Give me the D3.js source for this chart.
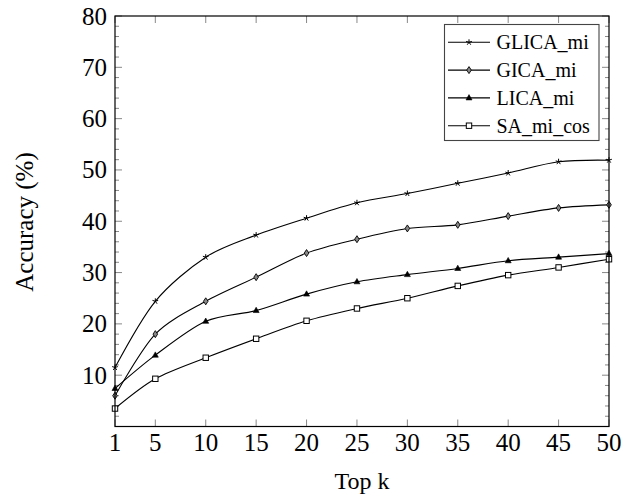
<!DOCTYPE html>
<html><head><meta charset="utf-8">
<script src="https://cdn.jsdelivr.net/npm/d3@7"></script>
<style>body{margin:0;background:#fff}svg{display:block}</style>
</head><body>
<svg id="c" width="635" height="499" font-family="Liberation Serif"></svg>
<script>
const topK = [1, 5, 10, 15, 20, 25, 30, 35, 40, 45, 50];
const glicaMi = [11.5, 24.4, 33.0, 37.3, 40.6, 43.6, 45.4, 47.4, 49.4, 51.6, 51.9];
const gicaMi  = [6.0, 18.0, 24.4, 29.1, 33.8, 36.5, 38.6, 39.3, 41.0, 42.6, 43.2];
const licaMi  = [7.4, 13.9, 20.5, 22.6, 25.8, 28.2, 29.6, 30.8, 32.3, 33.0, 33.7];
const saMiCos = [3.5, 9.3, 13.4, 17.1, 20.6, 23.0, 25.0, 27.4, 29.5, 31.0, 32.6];
const seriesNames = ["GLICA_mi", "GICA_mi", "LICA_mi", "SA_mi_cos"];
const markerKinds = ["star", "diamond", "triangle", "square"];
const yTickLabels = ["10", "20", "30", "40", "50", "60", "70", "80"];
const xTickLabels = ["1", "5", "10", "15", "20", "25", "30", "35", "40", "45", "50"];

const svg = d3.select("#c");
const L = 115, R = 609, T = 16, B = 426.5;
const x = d3.scaleLinear().domain([1, 50]).range([L, R]);
const y = d3.scaleLinear().domain([0, 80]).range([B, T]);

function txt(sel) { return sel.append("text").attr("font-family", "Liberation Serif").attr("fill", "#000"); }

// ticks (inward)
const g = svg.append("g");
const minor = d3.range(2, 80, 2).filter(v => v % 10 !== 0);
const tickCol = "#888";
yTickLabels.forEach(s => {
  const v = +s;
  g.append("line").attr("x1", L).attr("x2", L + 7).attr("y1", y(v)).attr("y2", y(v)).attr("stroke", tickCol).attr("stroke-width", 1);
  g.append("line").attr("x1", R).attr("x2", R - 7).attr("y1", y(v)).attr("y2", y(v)).attr("stroke", tickCol).attr("stroke-width", 1);
});
minor.forEach(v => {
  g.append("line").attr("x1", L).attr("x2", L + 4).attr("y1", y(v)).attr("y2", y(v)).attr("stroke", tickCol).attr("stroke-width", 1);
  g.append("line").attr("x1", R).attr("x2", R - 4).attr("y1", y(v)).attr("y2", y(v)).attr("stroke", tickCol).attr("stroke-width", 1);
});
xTickLabels.forEach(s => {
  const v = +s;
  g.append("line").attr("x1", x(v)).attr("x2", x(v)).attr("y1", B).attr("y2", B - 7).attr("stroke", tickCol).attr("stroke-width", 1);
  g.append("line").attr("x1", x(v)).attr("x2", x(v)).attr("y1", T).attr("y2", T + 7).attr("stroke", tickCol).attr("stroke-width", 1);
});

// tick labels
yTickLabels.forEach(s => {
  txt(svg).attr("x", L - 8).attr("y", y(+s) + 8.5).attr("text-anchor", "end").attr("font-size", 25).text(s);
});
xTickLabels.forEach(s => {
  txt(svg).attr("x", x(+s)).attr("y", 451).attr("text-anchor", "middle").attr("font-size", 25).text(s);
});

// axis labels
txt(svg).attr("x", (L + R) / 2).attr("y", 489).attr("text-anchor", "middle").attr("font-size", 24).text("Top k");
txt(svg).attr("transform", "translate(33,222) rotate(-90)").attr("text-anchor", "middle").attr("font-size", 25).text("Accuracy (%)");

// markers
function drawMarker(sel, kind, cx, cy) {
  if (kind === "star") {
    for (let i = 0; i < 5; i++) {
      const a = -Math.PI / 2 + i * 2 * Math.PI / 5;
      sel.append("line").attr("x1", cx).attr("y1", cy).attr("x2", cx + 3 * Math.cos(a)).attr("y2", cy + 3 * Math.sin(a)).attr("stroke", "#000").attr("stroke-width", 1);
    }
  } else if (kind === "diamond") {
    sel.append("path").attr("d", `M${cx},${cy - 3.5}L${cx + 2.3},${cy}L${cx},${cy + 3.5}L${cx - 2.3},${cy}Z`).attr("fill", "#888").attr("stroke", "#000").attr("stroke-width", 0.9);
  } else if (kind === "triangle") {
    sel.append("path").attr("d", `M${cx},${cy - 3.3}L${cx + 3},${cy + 2}L${cx - 3},${cy + 2}Z`).attr("fill", "#000").attr("stroke", "#000").attr("stroke-width", 0.6);
  } else {
    sel.append("rect").attr("x", cx - 2.7).attr("y", cy - 2.7).attr("width", 5.4).attr("height", 5.4).attr("fill", "#fff").attr("stroke", "#000").attr("stroke-width", 1);
  }
}

const allSeries = [glicaMi, gicaMi, licaMi, saMiCos];
const line = d3.line().x((d, i) => x(topK[i])).y(d => y(d)).curve(d3.curveCardinal.tension(0.1));
allSeries.forEach((vals, si) => {
  svg.append("path").attr("d", line(vals)).attr("fill", "none").attr("stroke", "#000").attr("stroke-width", 1.1);
  const mg = svg.append("g");
  vals.forEach((v, i) => drawMarker(mg, markerKinds[si], x(topK[i]), y(v)));
});

// frame
svg.append("rect").attr("x", L).attr("y", T).attr("width", R - L).attr("height", B - T).attr("fill", "none").attr("stroke", "#000").attr("stroke-width", 1.2);

// legend
const lg = svg.append("g");
lg.append("rect").attr("x", 444.5).attr("y", 24.5).attr("width", 154.5).attr("height", 116).attr("fill", "#fff").attr("stroke", "#444").attr("stroke-width", 1.1);
seriesNames.forEach((n, i) => {
  const cy = 42.3 + i * 27.8;
  lg.append("line").attr("x1", 448).attr("x2", 490).attr("y1", cy).attr("y2", cy).attr("stroke", "#000").attr("stroke-width", 1.1);
  drawMarker(lg, markerKinds[i], 469, cy);
  txt(lg).attr("x", 496.5).attr("y", cy + 6.8).attr("font-size", 20).text(n);
});
</script>
</body></html>
